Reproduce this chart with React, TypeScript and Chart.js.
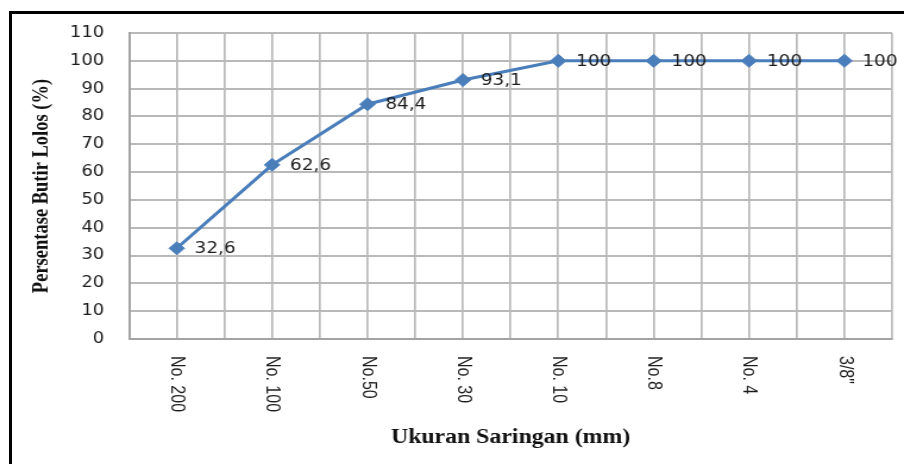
import React, { useEffect, useRef } from "react";
import { Chart, registerables } from "chart.js";

Chart.register(...registerables);

const categories = ["No. 200", "No. 100", "No.50", "No. 30", "No. 10", "No.8", "No. 4", "3/8\""];
const passingPercent = [32.6, 62.6, 84.4, 93.1, 100, 100, 100, 100];
const yTitle = "Persentase Butir Lolos (%)";
const xTitle = "Ukuran Saringan (mm)";

const BASE_W = 760;
const H = 464;
const STRETCH = 904 / BASE_W;

const labelPlugin = {
  id: "customLabels",
  afterDatasetsDraw(chart: any) {
    const ctx = chart.ctx;
    const meta = chart.getDatasetMeta(0);
    ctx.save();
    ctx.font = "15.5px 'DejaVu Sans'";
    ctx.fillStyle = "#1c1c1c";
    ctx.textAlign = "left";
    ctx.textBaseline = "middle";
    meta.data.forEach((pt: any, i: number) => {
      const txt = String(passingPercent[i]).replace(".", ",");
      ctx.fillText(txt, pt.x + 15, pt.y + 1);
    });
    ctx.restore();
  },
  afterDraw(chart: any) {
    const ctx = chart.ctx;
    const xs = chart.scales.x;
    ctx.save();
    ctx.font = "16px 'Liberation Sans'";
    ctx.fillStyle = "#1c1c1c";
    ctx.textAlign = "left";
    ctx.textBaseline = "middle";
    categories.forEach((c, i) => {
      const px = xs.getPixelForValue(i);
      ctx.save();
      ctx.translate(px, chart.chartArea.bottom + 17);
      ctx.rotate(Math.PI / 2);
      ctx.fillText(c, 0, 0);
      ctx.restore();
    });
    ctx.restore();
  },
};

export default function App() {
  const ref = useRef<HTMLCanvasElement | null>(null);
  useEffect(() => {
    if (!ref.current) return;
    const chart = new Chart(ref.current, {
      type: "line",
      data: {
        datasets: [
          {
            data: passingPercent.map((v, i) => ({ x: i, y: v })),
            borderColor: "#4a7ebb",
            backgroundColor: "#4a7ebb",
            borderWidth: 3,
            pointStyle: "rectRot",
            pointRadius: 6.5,
            pointBorderWidth: 1,
            pointBorderColor: "#4a7ebb",
            pointBackgroundColor: "#4a7ebb",
            tension: 0,
            fill: false,
          },
        ],
      },
      options: {
        animation: false,
        responsive: true,
        maintainAspectRatio: false,
        layout: { padding: { top: 33, right: 10, left: 0, bottom: 0 } },
        plugins: {
          legend: { display: false },
          tooltip: { enabled: false },
        },
        scales: {
          x: {
            type: "linear",
            min: -0.5,
            max: 7.5,
            ticks: { display: false, stepSize: 0.5 },
            grid: { color: "#b9b9b9", lineWidth: 1.7, drawTicks: false },
            border: { color: "#a3a3a3", width: 2 },
            title: {
              display: true,
              text: xTitle,
              color: "#111",
              font: { family: "'Liberation Serif'", size: 20, weight: "bold" },
              padding: { top: 0, bottom: 14 },
            },
            afterFit: (s: any) => {
              s.height = 125;
            },
          },
          y: {
            min: 0,
            max: 110,
            ticks: {
              stepSize: 10,
              padding: 21,
              color: "#1c1c1c",
              font: { family: "'DejaVu Sans'", size: 15 },
            },
            grid: { color: "#b9b9b9", lineWidth: 2, drawTicks: false },
            border: { color: "#a3a3a3", width: 2 },
            title: {
              display: true,
              text: yTitle,
              color: "#111",
              font: { family: "'Liberation Serif'", size: 18.5, weight: "bold" },
              padding: { top: 24, bottom: 0 },
            },
            afterFit: (s: any) => {
              s.width = 108.5;
            },
          },
        },
      },
      plugins: [labelPlugin],
    });
    return () => chart.destroy();
  }, []);

  return (
    <div style={{ position: "fixed", left: 0, top: 0, width: 904, height: H, overflow: "hidden", background: "#fff" }}>
      <div
        style={{
          position: "absolute",
          left: 0,
          top: 0,
          width: BASE_W,
          height: H,
          transform: `scaleX(${STRETCH})`,
          transformOrigin: "0 0",
        }}
      >
        <canvas ref={ref} />
      </div>
      <div
        style={{
          position: "absolute",
          left: 9,
          top: 11,
          width: 1200,
          height: 1200,
          borderLeft: "3px solid #000",
          borderTop: "3px solid #000",
          pointerEvents: "none",
        }}
      />
    </div>
  );
}
